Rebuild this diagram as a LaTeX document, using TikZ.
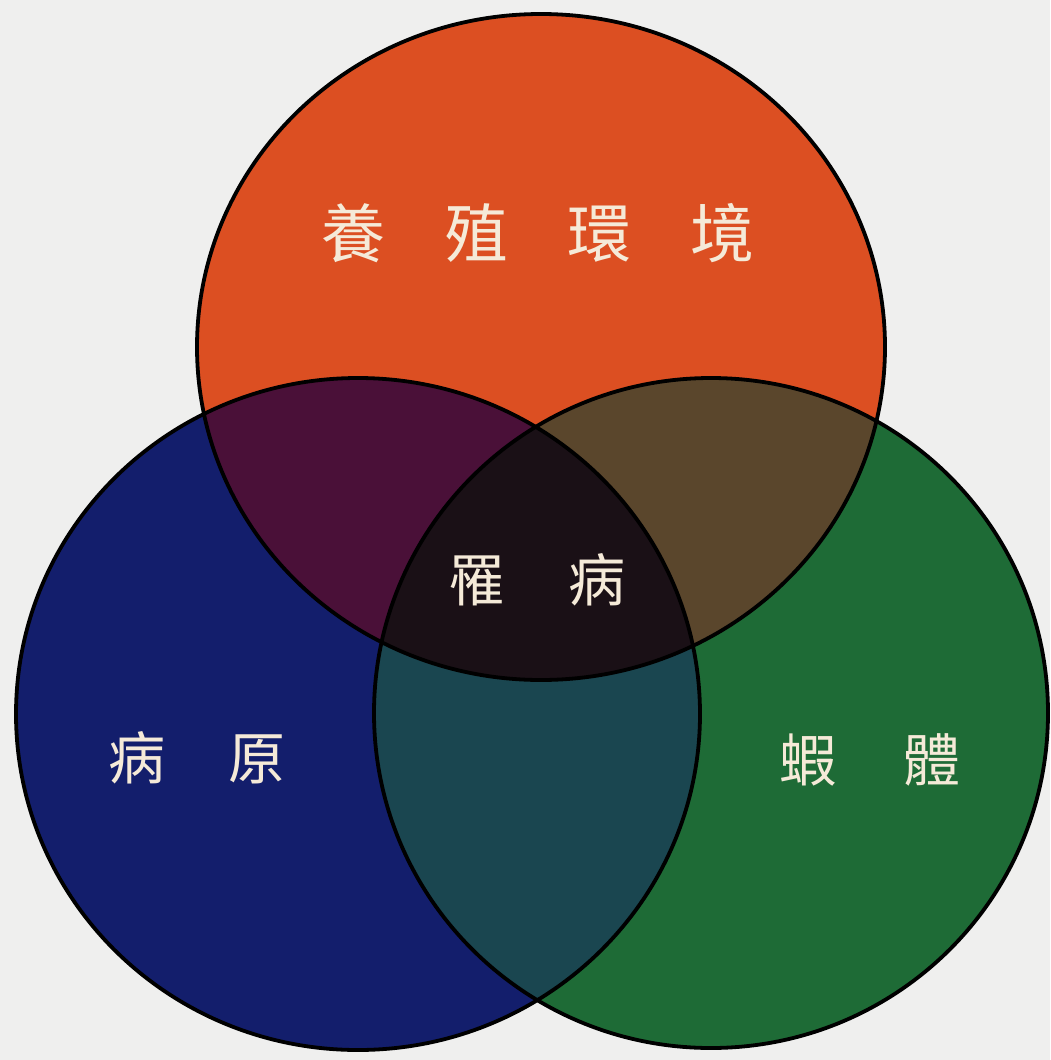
\documentclass[tikz,border=0pt]{standalone}
\usepackage{fontspec}
\newfontfamily\cjk{Noto Sans CJK TC}
\definecolor{bgc}{HTML}{EFEFEE}
\definecolor{ctop}{HTML}{DC4F22}
\definecolor{cleft}{HTML}{131E6C}
\definecolor{cright}{HTML}{1E6B36}
\definecolor{ctl}{HTML}{4A1038}
\definecolor{ctr}{HTML}{5A462C}
\definecolor{clr}{HTML}{1A4650}
\definecolor{call}{HTML}{1A1016}
\definecolor{txt}{HTML}{F5EAD8}
\tikzset{
  ring/.style={draw=black, line width=3.8pt},
  lbl/.style={text=txt, inner sep=0pt, font=\cjk\fontsize{57}{57}\selectfont},
  lblbig/.style={lbl, font=\cjk\fontsize{64}{64}\selectfont}
}
\begin{document}
\begin{tikzpicture}[x=1pt,y=-1pt]
\fill[bgc] (0,0) rectangle (1050,1060);
\useasboundingbox (0,0) rectangle (1050,1060);
\def\topE{(541,347) ellipse [x radius=344pt, y radius=333pt]}
\def\leftE{(358,714) ellipse [x radius=342pt, y radius=336pt]}
\def\rightE{(711,713) ellipse [x radius=337pt, y radius=335pt]}
% base fills
\fill[ctop] \topE;
\fill[cleft] \leftE;
\fill[cright] \rightE;
% pairwise overlaps
\begin{scope}\clip \topE; \fill[ctl] \leftE; \end{scope}
\begin{scope}\clip \topE; \fill[ctr] \rightE; \end{scope}
\begin{scope}\clip \leftE; \fill[clr] \rightE; \end{scope}
% triple overlap
\begin{scope}\clip \topE; \clip \leftE; \fill[call] \rightE; \end{scope}
% outlines
\draw[ring] \topE;
\draw[ring] \leftE;
\draw[ring] \rightE;
% labels
\node[lblbig] (env) at (538,233) {養\hspace{59pt}殖\hspace{59pt}環\hspace{59pt}境};
\node[lbl] (dis) at (537,580) {罹\hspace{63pt}病};
\node[lbl] (path) at (197,758) {病\hspace{63pt}原};
\node[lbl] (host) at (870,760) {蝦\hspace{67pt}體};
\end{tikzpicture}
\end{document}
